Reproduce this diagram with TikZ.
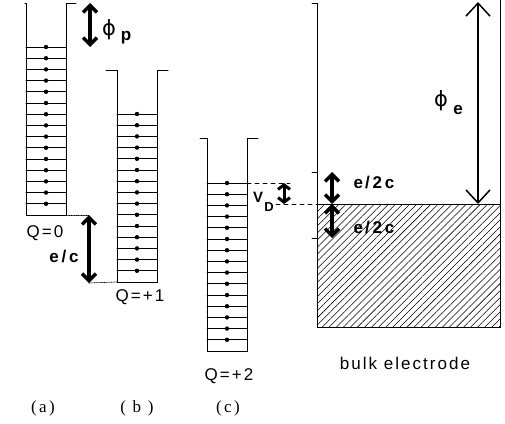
\documentclass[tikz,border=0pt]{standalone}
\usepackage{fontspec}
\setmainfont{Liberation Sans}
\newfontfamily\lblfont[LetterSpace=12]{Liberation Sans}
\newfontfamily\capfont[LetterSpace=14]{Liberation Serif}
\newfontfamily\grkfont{DejaVu Sans}
\usetikzlibrary{arrows.meta, positioning, patterns.meta, calc}

\begin{document}
\begin{tikzpicture}[x=1pt, y=-1pt, line cap=round]

% --- Style Definitions ---
% well walls and levels
\tikzstyle{wall}=[line width=1pt, black]
\tikzstyle{level}=[line width=1pt, black]
\tikzstyle{elec}=[circle, fill=black, inner sep=0pt, minimum size=4.4pt]
% text
\tikzstyle{qlabel}=[font=\lblfont\fontsize{17}{17}\selectfont, inner sep=0pt]
\tikzstyle{elabel}=[font=\lblfont\bfseries\fontsize{17}{17}\selectfont, inner sep=0pt]
\tikzstyle{panel}=[font=\capfont\fontsize{17}{17}\selectfont, inner sep=0pt]
\tikzstyle{philabel}=[font=\grkfont\fontsize{21}{21}\selectfont, inner sep=0pt]
% arrows
\tikzstyle{bold_arrow}=[{Straight Barb[length=7pt,width=14pt]}-{Straight Barb[length=7pt,width=14pt]}, line width=3.4pt, line cap=butt]
\tikzstyle{thin_arrow}=[{Straight Barb[length=13pt,width=24pt]}-{Straight Barb[length=13pt,width=24pt]}, line width=1.5pt]
\tikzstyle{guide}=[line width=0.7pt, densely dotted]
\tikzstyle{fermi}=[line width=0.9pt, dash pattern=on 4pt off 4pt]

\useasboundingbox (0,0) rectangle (505,423);

% --- 1. Quantum dot wells (a), (b), (c) ---
\foreach \name/\xl/\xr/\lipl/\lipr/\yt/\yl/\xd in {A/26/66/25/76/3/47/46, B/117/157/106/168/70/114/137, C/207/247/200/258/138/183/227} {
  \draw[wall] (\lipl,\yt) -- (\xl,\yt) -- (\xl,\yl+168) -- (\xr,\yl+168) -- (\xr,\yt) -- (\lipr,\yt);
  \foreach \k in {0,...,14} {
    \draw[level] (\xl,\yl+\k*11.2) -- (\xr,\yl+\k*11.2);
    \node[elec] at (\xd,\yl+\k*11.2) {};
  }
  \coordinate (top\name) at (\xr,\yl);
  \coordinate (bot\name) at (\xl,\yl+168);
}

% --- 2. Bulk electrode ---
\fill[pattern={Lines[angle=45, distance=5pt, line width=0.55pt]}] (317,204) rectangle (500,327);
\draw[wall] (312,3) -- (317,3) -- (317,327) -- (500,327) -- (500,0);
\draw[wall] (317,204) -- (500,204);
\draw[wall] (312,172) -- (317,172);
\draw[wall] (312,238) -- (317,238);

% --- 3. Arrow end points ---
\coordinate (phiPtop) at (90,3);
\coordinate (phiPbot) at (90,47);
\coordinate (ecTop) at (89,215);
\coordinate (ecBot) at (89,283);
\coordinate (vdTop) at (284,183);
\coordinate (vdBot) at (284,204);
\coordinate (vdEnd) at (290,183);
\coordinate (fermiL) at (276,204);
\coordinate (fermiE) at (317,204);
\coordinate (halfTop) at (332,172);
\coordinate (halfMid) at (332,204);
\coordinate (halfBot) at (332,238);
\coordinate (phiEtop) at (478,2);
\coordinate (phiEbot) at (478,204);

% guide lines
\draw[guide] (66,215) -- (ecTop);
\draw[guide] (ecBot) -- (botB);
\draw[fermi] (topC) -- (vdEnd);
\draw[fermi] (fermiL) -- (fermiE);

% --- 4. Arrows ---
\draw[bold_arrow] (phiPtop) -- (phiPbot);
\draw[bold_arrow] (ecTop) -- (ecBot);
\draw[{Straight Barb[length=4.5pt,width=12pt]}-{Straight Barb[length=4.5pt,width=12pt]}, line width=3pt, line cap=butt] (vdTop) -- (vdBot);
\draw[bold_arrow] (halfTop) -- (halfMid);
\draw[bold_arrow] (halfMid) -- (halfBot);
\draw[thin_arrow] (phiEtop) -- (phiEbot);

% --- 5. Labels ---
\node[philabel] (phiP) at (109,30) {ϕ};
\node[elabel] (phiPsub) at (126,38) {p};
\node[philabel] (phiE) at (441,101) {ϕ};
\node[elabel] (phiEsub) at (458,110) {e};
\node[elabel] (ec) at (64,257) {e\,/\,c};
\node[elabel] (halfUp) at (374,183) {e/\,2\,c};
\node[elabel] (halfDown) at (374,228) {e/\,2\,c};
\node[elabel, font=\lblfont\bfseries\fontsize{15}{15}\selectfont] (vd) at (258,197) {V};
\node[elabel, font=\lblfont\bfseries\fontsize{13}{13}\selectfont] (vdsub) at (269,207) {D};

\node[qlabel] (qA) at (45,233) {Q=0};
\node[qlabel] (qB) at (140,297) {Q=+1};
\node[qlabel] (qC) at (229,376) {Q=+2};
\node[qlabel] (bulk) at (405,363) {bulk electrode};

\node[panel] (pa) at (43,408) {(a)};
\node[panel] (pb) at (137,408) {( b )};
\node[panel] (pc) at (228,408) {(c)};

\end{tikzpicture}
\end{document}
